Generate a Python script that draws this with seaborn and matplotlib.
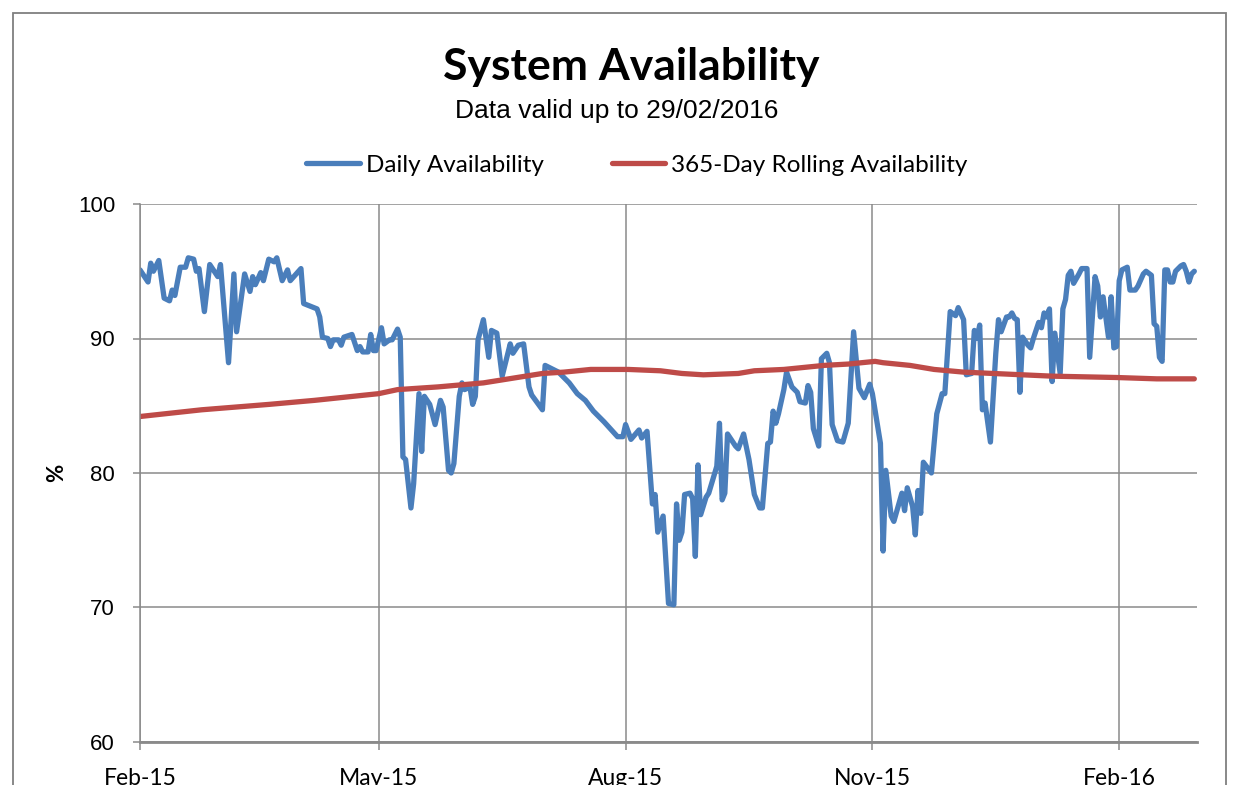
import pandas as pd
import matplotlib
matplotlib.use("Agg")
import matplotlib.pyplot as plt
import matplotlib.dates as mdates
from matplotlib.patches import Rectangle
import seaborn as sns

# valores: dia (a partir de 01/02/2015) e disponibilidade em %
start = pd.Timestamp("2015-02-01")

daily_day = [0, 3, 4, 5, 7, 9, 11, 12, 13, 15, 17, 18, 20, 21, 22, 24, 26, 29, 30, 33,
             35, 36, 39, 41, 42, 43, 45, 46, 48, 50, 51, 53, 55, 56, 60, 61, 66, 67, 68, 70,
             71, 72, 74, 75, 76, 79, 81, 82, 83, 85, 86, 87, 88, 90, 91, 93, 94, 96, 97, 98,
             99, 101, 102, 104, 105, 106, 108, 110, 112, 113, 115, 116, 117, 119, 120, 121, 123, 124, 125, 126,
             128, 130, 131, 133, 135, 138, 139, 141, 143, 145, 146, 150, 151, 153, 156, 160, 163, 166, 169, 173,
             178, 180, 181, 183, 186, 187, 189, 191, 192, 193, 195, 197, 199, 200, 201, 202, 203, 205, 206, 207,
             208, 209, 211, 212, 215, 216, 217, 218, 219, 222, 223, 225, 227, 229, 231, 232, 234, 235, 236, 237,
             238, 240, 241, 243, 245, 246, 248, 249, 250, 251, 253, 254, 256, 257, 258, 260, 262, 264, 266, 268,
             270, 272, 273, 276, 277, 278, 280, 281, 284, 285, 286, 288, 289, 290, 291, 292, 295, 297, 299, 300,
             302, 304, 305, 307, 308, 310, 311, 312, 313, 314, 315, 317, 319, 320, 321, 323, 324, 325, 326, 327,
             328, 329, 331, 332, 333, 335, 336, 337, 338, 339, 340, 341, 343, 344, 345, 346, 347, 348, 350, 351,
             353, 354, 356, 357, 358, 359, 361, 362, 363, 364, 365, 366, 368, 369, 371, 372, 374, 375, 377, 378,
             379, 380, 381, 382, 383, 384, 385, 386, 388, 389, 390, 391, 392, 393]
daily_avail = [95.1, 94.2, 95.6, 95.0, 95.8, 93.0, 92.8, 93.6, 93.2, 95.3, 95.3, 96.0, 95.9, 95.0, 95.2, 92.0, 95.5, 94.6, 95.5, 88.2,
               94.8, 90.5, 94.8, 93.5, 94.6, 94.0, 94.9, 94.3, 95.9, 95.7, 96.0, 94.3, 95.1, 94.3, 95.2, 92.6, 92.2, 91.6, 90.1, 90.0,
               89.4, 89.9, 89.9, 89.5, 90.1, 90.3, 89.1, 89.4, 89.0, 89.0, 90.3, 89.1, 89.1, 90.8, 89.6, 89.9, 89.9, 90.7, 90.1, 81.2,
               81.0, 77.4, 79.2, 85.9, 81.6, 85.7, 85.1, 83.6, 85.4, 84.9, 80.2, 80.0, 80.7, 85.7, 86.7, 86.2, 86.4, 85.1, 85.7, 89.9,
               91.4, 88.6, 90.6, 90.4, 87.2, 89.6, 88.9, 89.5, 89.6, 86.4, 85.8, 84.7, 88.0, 87.8, 87.5, 86.7, 85.9, 85.4, 84.6, 83.8,
               82.7, 82.7, 83.6, 82.5, 83.2, 82.6, 83.1, 77.7, 78.4, 75.6, 76.8, 70.3, 70.2, 77.7, 75.0, 75.6, 78.4, 78.5, 78.1, 73.8,
               80.6, 76.9, 78.2, 78.5, 80.5, 83.7, 78.0, 78.5, 82.9, 82.0, 81.8, 82.9, 81.0, 78.4, 77.4, 77.4, 82.2, 82.3, 84.6, 83.7,
               84.4, 86.2, 87.5, 86.4, 86.0, 85.3, 85.2, 86.5, 86.0, 83.3, 82.0, 88.5, 88.9, 88.2, 83.6, 82.4, 82.3, 83.7, 90.5, 86.3,
               85.6, 86.6, 85.9, 82.2, 74.2, 80.2, 76.8, 76.4, 78.5, 77.2, 78.9, 77.5, 75.4, 78.7, 77.0, 80.8, 80.0, 84.4, 85.9, 85.9,
               92.0, 91.7, 92.3, 91.4, 87.3, 87.4, 90.6, 90.0, 91.0, 84.7, 85.2, 82.3, 88.9, 91.4, 90.5, 91.6, 91.6, 91.9, 91.5, 91.4,
               86.0, 90.1, 89.5, 89.3, 90.0, 91.2, 90.8, 91.9, 91.6, 92.2, 86.8, 90.4, 87.4, 92.2, 92.9, 94.7, 95.0, 94.1, 94.8, 95.2,
               95.2, 88.6, 94.6, 93.9, 91.6, 93.1, 90.1, 93.1, 89.3, 89.4, 94.3, 95.1, 95.3, 93.6, 93.6, 93.9, 94.8, 95.0, 94.7, 91.1,
               90.9, 88.6, 88.3, 95.1, 95.1, 94.2, 94.2, 95.0, 95.4, 95.5, 95.0, 94.2, 94.8, 95.0]

rolling_day = [0, 23, 48, 65, 89, 96, 111, 128, 150, 158, 168, 182, 194, 202, 210, 223, 229, 240,
               255, 264, 274, 277, 287, 296, 307, 318, 340, 364, 379, 393]
rolling_avail = [84.2, 84.7, 85.1, 85.4, 85.9, 86.2, 86.4, 86.7, 87.4, 87.5, 87.7, 87.7, 87.6, 87.4,
                 87.3, 87.4, 87.6, 87.7, 88.0, 88.1, 88.3, 88.2, 88.0, 87.7, 87.5, 87.4, 87.2, 87.1, 87.0, 87.0]

y_ticks = [60, 70, 80, 90, 100]

df_daily = pd.DataFrame({"data": start + pd.to_timedelta(daily_day, unit="D"), "valor": daily_avail})
df_roll = pd.DataFrame({"data": start + pd.to_timedelta(rolling_day, unit="D"), "valor": rolling_avail})

sns.set_style("white")
plt.rcParams["font.family"] = ["Lato", "DejaVu Sans"]
plt.rcParams["text.color"] = "black"
plt.rcParams["axes.labelcolor"] = "black"

fig = plt.figure(figsize=(12.39, 7.85), dpi=100)
ax = fig.add_axes([140 / 1239, 1 - 742 / 785, (1197 - 140) / 1239, (742 - 204) / 785])

grid_cor = "#8a8a8a"
ax.set_axisbelow(True)
ax.grid(True, color=grid_cor, lw=1.1)

sns.lineplot(data=df_daily, x="data", y="valor", ax=ax, color="#4A7EBB", lw=3.8,
             label="Daily Availability")
sns.lineplot(data=df_roll, x="data", y="valor", ax=ax, color="#BE4B48", lw=3.8,
             label="365-Day Rolling Availability")

ax.set_xlim(pd.Timestamp("2015-02-01"), pd.Timestamp("2016-03-01"))
ax.set_ylim(60, 100)
ax.set_yticks(y_ticks)
ax.xaxis.set_major_locator(mdates.MonthLocator(bymonth=[2, 5, 8, 11]))
ax.xaxis.set_major_formatter(mdates.DateFormatter("%b-%y"))

for s in ["top", "right"]:
    ax.spines[s].set_visible(False)
ax.spines["left"].set_color(grid_cor)
ax.spines["left"].set_linewidth(1.1)
ax.spines["bottom"].set_color(grid_cor)
ax.spines["bottom"].set_linewidth(2)

ax.tick_params(axis="y", length=5, width=1.1, color=grid_cor, labelcolor="black", pad=13, left=True)
ax.tick_params(axis="x", length=6, width=1.1, color=grid_cor, labelcolor="black", pad=13, bottom=True)
for lbl in ax.get_yticklabels():
    lbl.set_fontfamily("Liberation Sans")
    lbl.set_fontsize(16)
for lbl in ax.get_xticklabels():
    lbl.set_fontsize(16.5)

ax.set_xlabel("")
ax.set_ylabel("%", fontsize=16, fontweight="bold", labelpad=8)

leg = ax.legend(loc="center", bbox_to_anchor=(637 / 1239, 1 - 165 / 785), bbox_transform=fig.transFigure,
                ncol=2, frameon=False, fontsize=17.5, handlelength=2.2, columnspacing=2.8, handletextpad=0.25)

fig.text(631 / 1239, 1 - 67 / 785, "System Availability", ha="center", va="center",
         fontsize=32, fontweight="bold")
fig.text(617 / 1239, 1 - 111 / 785, "Data valid up to 29/02/2016", ha="center", va="center",
         fontsize=19, family="Liberation Sans")

# moldura da area do grafico
fig.add_artist(Rectangle((13 / 1239, -0.05), (1226 - 13) / 1239, 1.05 - 13 / 785,
                         transform=fig.transFigure, fill=False, ec="#7f7f7f", lw=1.3))

fig.savefig("out.png", dpi=100)
